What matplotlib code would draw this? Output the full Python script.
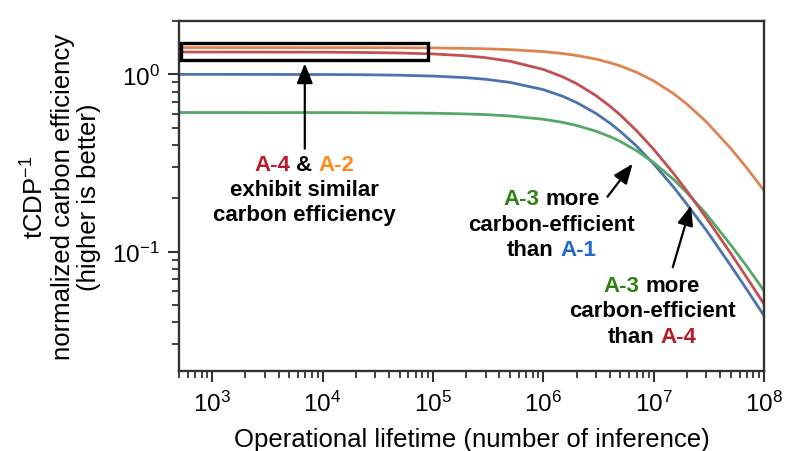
import matplotlib
matplotlib.use("Agg")
import matplotlib.pyplot as plt
from matplotlib.patches import Rectangle
from matplotlib import transforms
from matplotlib.ticker import LogLocator, NullFormatter

plt.rcParams['font.family'] = ['Liberation Sans', 'DejaVu Sans']
plt.rcParams['mathtext.fontset'] = 'custom'
plt.rcParams['mathtext.rm'] = 'Liberation Sans'
plt.rcParams['mathtext.it'] = 'Liberation Sans:italic'
plt.rcParams['mathtext.bf'] = 'Liberation Sans:bold'
plt.rcParams['axes.unicode_minus'] = False

# ---- data ----
lifetime = [5e2, 1e3, 1e4, 2e4, 5e4, 1e5, 2e5, 3e5, 5e5, 1e6, 1.5e6, 2e6, 3e6, 4e6,
            5e6, 7e6, 1e7, 1.5e7, 2e7, 3e7, 5e7, 7e7, 1e8]
a1 = [1.0, 1.0, 0.998, 0.996, 0.989, 0.978, 0.958, 0.938, 0.901, 0.820, 0.752, 0.694,
      0.602, 0.532, 0.476, 0.394, 0.3125, 0.233, 0.185, 0.132, 0.0833, 0.061, 0.0435]
a2 = [1.416, 1.416, 1.415, 1.415, 1.413, 1.409, 1.401, 1.394, 1.379, 1.344, 1.310, 1.278,
      1.219, 1.164, 1.115, 1.027, 0.919, 0.782, 0.680, 0.540, 0.382, 0.296, 0.221]
a3 = [0.609, 0.609, 0.6085, 0.608, 0.606, 0.6035, 0.598, 0.593, 0.582, 0.558, 0.536, 0.515,
      0.478, 0.446, 0.418, 0.371, 0.318, 0.257, 0.215, 0.163, 0.109, 0.0824, 0.0601]
a4 = [1.337, 1.337, 1.334, 1.330, 1.320, 1.304, 1.272, 1.242, 1.186, 1.066, 0.968, 0.887,
      0.759, 0.663, 0.589, 0.481, 0.378, 0.278, 0.220, 0.155, 0.0976, 0.0712, 0.0506]

line_colors = {'A-1': '#4C72B0', 'A-2': '#DD8452', 'A-3': '#55A868', 'A-4': '#C44E52'}
txt_colors = {'A-1': '#1F6ACB', 'A-2': '#FF8C1A', 'A-3': '#2F7F14', 'A-4': '#B71C2C'}

fig = plt.figure(figsize=(7.97, 4.52), dpi=100)
ax = fig.add_axes([179/797, 1-372/452, (764-179)/797, (372-22)/452])

ax.plot(lifetime, a1, color=line_colors['A-1'], lw=2.0)
ax.plot(lifetime, a2, color=line_colors['A-2'], lw=2.0)
ax.plot(lifetime, a3, color=line_colors['A-3'], lw=2.0)
ax.plot(lifetime, a4, color=line_colors['A-4'], lw=2.0)

ax.set_xscale('log')
ax.set_yscale('log')
ax.set_xlim(500, 1e8)
ax.set_ylim(0.0212, 2.0)

for s in ax.spines.values():
    s.set_color('#333333')
    s.set_linewidth(1.7)
ax.tick_params(which='major', length=8, width=1.5, color='#333333', labelsize=17.5, pad=6)
ax.tick_params(which='minor', length=5, width=1.3, color='#333333')
ax.xaxis.set_major_locator(LogLocator(base=10, numticks=12))
ax.xaxis.set_minor_locator(LogLocator(base=10, subs=range(2, 10), numticks=12))
ax.xaxis.set_minor_formatter(NullFormatter())
ax.yaxis.set_minor_formatter(NullFormatter())

ax.set_xlabel('Operational lifetime (number of inference)', fontsize=18.5, labelpad=8)
ax.set_ylabel('tCDP$^{\\mathregular{-1}}$\nnormalized carbon efficiency\n(higher is better)',
              fontsize=18.5, linespacing=1.1, labelpad=8)

# box around A-4 & A-2
ax.add_patch(Rectangle((520, 1.2), 9.1e4 - 520, 0.3, fill=False, ec='black', lw=2.4, zorder=5))

arrow_kw = dict(arrowstyle='-|>,head_length=0.55,head_width=0.22', color='black', lw=1.6,
                mutation_scale=22, shrinkA=0, shrinkB=0)
ax.annotate('', xy=(6.9e3, 1.154), xytext=(6.9e3, 0.381), arrowprops=arrow_kw)
ax.annotate('', xy=(6.45e6, 0.313), xytext=(3.82e6, 0.204), arrowprops=arrow_kw)
ax.annotate('', xy=(2.18e7, 0.182), xytext=(1.49e7, 0.0816), arrowprops=arrow_kw)

FS = 16
renderer = fig.canvas.get_renderer()


def colored_line(x, y, parts):
    texts = []
    widths = []
    for s, c in parts:
        t = ax.text(x, y, s, color=c, fontsize=FS, fontweight='bold',
                    ha='left', va='baseline')
        texts.append(t)
        widths.append(t.get_window_extent(renderer).width)
    gap = 0.278 * FS * 100 / 72
    total = sum(widths) + gap * (len(parts) - 1)
    off = -total / 2
    for t, w in zip(texts, widths):
        t.set_transform(transforms.offset_copy(ax.transData, fig, x=off, y=0, units='dots'))
        off += w + gap


def plain_line(x, y, s):
    ax.text(x, y, s, color='black', fontsize=FS, fontweight='bold', ha='center', va='baseline')


# annotation 1
colored_line(6.8e3, 0.2873, [('A-4', txt_colors['A-4']), ('&', 'black'), ('A-2', txt_colors['A-2'])])
plain_line(6.8e3, 0.2075, 'exhibit similar')
plain_line(6.8e3, 0.1498, 'carbon efficiency')

# annotation 2
colored_line(1.19e6, 0.186, [('A-3', txt_colors['A-3']), ('more', 'black')])
plain_line(1.19e6, 0.1327, 'carbon-efficient')
colored_line(1.19e6, 0.0958, [('than', 'black'), ('A-1', txt_colors['A-1'])])

# annotation 3
colored_line(9.66e6, 0.0602, [('A-3', txt_colors['A-3']), ('more', 'black')])
plain_line(9.66e6, 0.0434, 'carbon-efficient')
colored_line(9.66e6, 0.0309, [('than', 'black'), ('A-4', txt_colors['A-4'])])

fig.savefig('out.png', dpi=100)
